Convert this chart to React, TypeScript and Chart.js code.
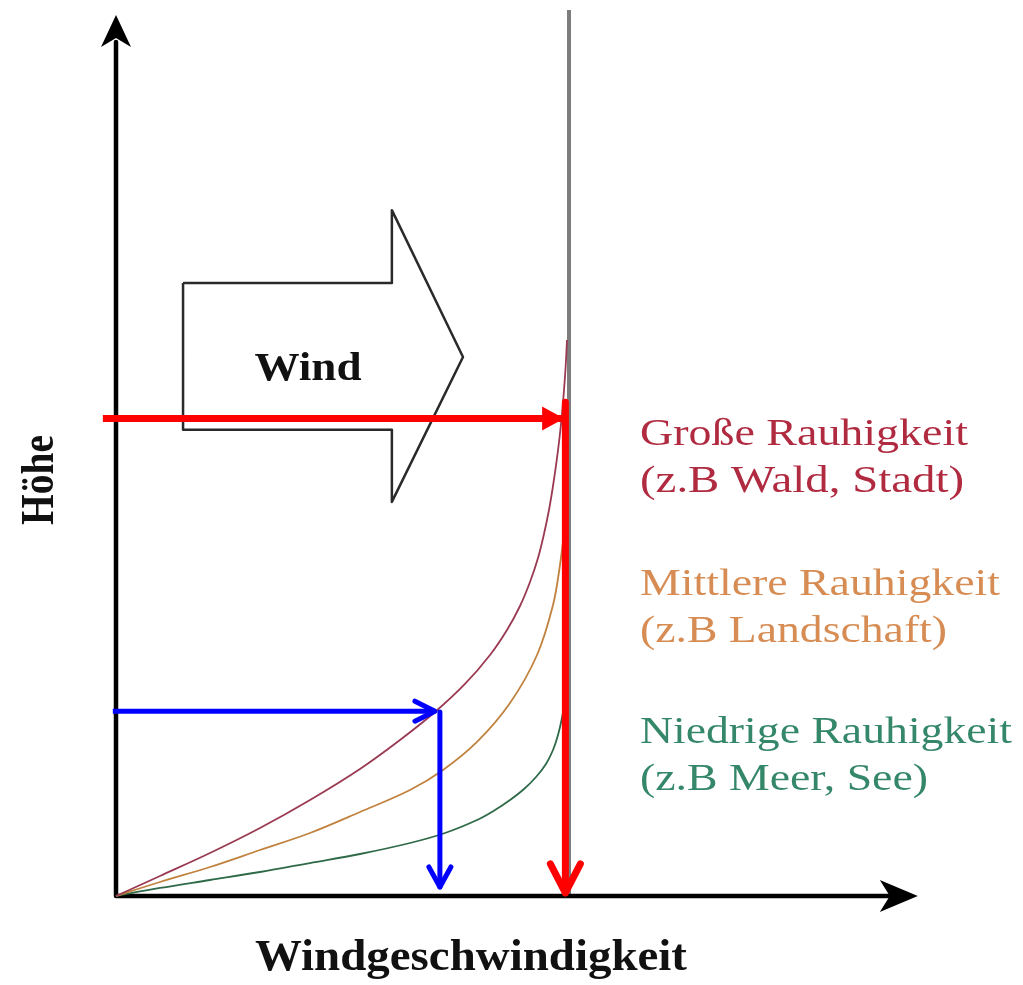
import React, { useEffect, useRef } from "react";
import { Chart, registerables } from "chart.js";

Chart.register(...registerables);

// Wind speed (x, 100 = free-stream speed) and height (y) in the same units
const RED_CURVE_X = [0, 9.71, 20.75, 31.79, 42.83, 53.86, 62.69, 70.42, 77.04, 82.56, 86.31, 89.18, 91.39, 93.16, 94.48, 95.58, 96.47, 97.24, 97.9, 98.45, 98.9, 99.27, 99.56];
const RED_CURVE_Y = [0, 4.42, 9.49, 15.01, 21.19, 28.04, 34.44, 40.62, 46.8, 53.2, 58.72, 64.02, 69.32, 74.61, 79.91, 85.21, 90.51, 95.81, 101.1, 106.4, 111.7, 117.0, 122.74];
const ORANGE_CURVE_X = [0, 9.71, 20.75, 31.79, 42.83, 53.86, 64.9, 72.19, 79.69, 86.98, 92.94, 96.47, 98.01, 99.12];
const ORANGE_CURVE_Y = [0, 3.09, 6.4, 10.15, 13.91, 18.54, 23.4, 27.81, 34.0, 42.6, 53.2, 64.24, 73.07, 81.9];
const GREEN_CURVE_X = [0, 9.71, 20.75, 31.79, 42.83, 53.86, 64.9, 72.63, 79.69, 83.66, 86.98, 90.07, 92.72, 94.92, 96.47, 97.57, 98.45, 99.12, 99.56];
const GREEN_CURVE_Y = [0, 1.77, 3.53, 5.3, 7.28, 9.27, 11.7, 13.91, 16.78, 18.98, 21.19, 23.62, 26.27, 29.14, 32.23, 35.54, 39.29, 43.27, 47.68];

const AXIS_Y_TOP = 194.5;
const AXIS_X_END = 177.0;
const V_MAX_LINE_X = 100;
const V_MAX_LINE_TOP = 195.6;

const RED_H_X = [-2.9, 98.7];
const RED_H_Y = 105.4;
const RED_V_X = 99.2;
const RED_V_Y = [109.0, 0.7];

const BLUE_H_X = [-0.7, 70.4];
const BLUE_H_Y = 40.8;
const BLUE_V_X = 71.5;
const BLUE_V_Y = [40.6, 2.0];

const WIND_ARROW_X = [14.8, 60.9, 60.9, 76.6, 60.9, 60.9, 14.8, 14.8];
const WIND_ARROW_Y = [135.3, 135.3, 151.4, 119.0, 87.0, 102.9, 102.9, 135.3];

const LEGEND_LINES = [
  "Große Rauhigkeit",
  "(z.B Wald, Stadt)",
  "Mittlere Rauhigkeit",
  "(z.B Landschaft)",
  "Niedrige Rauhigkeit",
  "(z.B Meer, See)",
];
const X_TITLE = "Windgeschwindigkeit";
const Y_TITLE = "Höhe";
const ARROW_LABEL = "Wind";

const C_RED_CURVE = "#9a3a52";
const C_ORANGE_CURVE = "#c0823e";
const C_GREEN_CURVE = "#2f6a48";
const C_RED_TEXT = "#b02a40";
const C_ORANGE_TEXT = "#d68c52";
const C_GREEN_TEXT = "#35876a";

const PX_PER_UNIT = 4.53;
const ORIGIN_PX = [116, 896];
const W = 1023;
const H = 985;

const zip = (xs: number[], ys: number[]) => xs.map((x, i) => ({ x, y: ys[i] }));

function drawHead(
  ctx: CanvasRenderingContext2D,
  tx: number,
  ty: number,
  ang: number,
  shape: number[][],
  color: string,
  filled: boolean,
  lw = 0
) {
  ctx.save();
  ctx.translate(tx, ty);
  ctx.rotate(ang);
  ctx.beginPath();
  shape.forEach(([a, b], i) => (i ? ctx.lineTo(a, b) : ctx.moveTo(a, b)));
  if (filled) {
    ctx.closePath();
    ctx.fillStyle = color;
    ctx.fill();
  } else {
    ctx.strokeStyle = color;
    ctx.lineWidth = lw;
    ctx.lineCap = "round";
    ctx.lineJoin = "round";
    ctx.stroke();
  }
  ctx.restore();
}

function drawText(
  ctx: CanvasRenderingContext2D,
  text: string,
  x: number,
  y: number,
  font: string,
  color: string,
  align: CanvasTextAlign,
  targetWidth: number
) {
  ctx.save();
  ctx.font = font;
  const w = ctx.measureText(text).width;
  const sx = targetWidth / w;
  ctx.translate(x, y);
  ctx.scale(sx, 1);
  ctx.fillStyle = color;
  ctx.textAlign = align;
  ctx.textBaseline = "alphabetic";
  ctx.fillText(text, 0, 0);
  ctx.restore();
}

const decorPlugin = {
  id: "decor",
  afterDatasetsDraw(chart: any) {
    const ctx: CanvasRenderingContext2D = chart.ctx;
    const sx = chart.scales.x;
    const sy = chart.scales.y;
    const P = (x: number, y: number) => [sx.getPixelForValue(x), sy.getPixelForValue(y)];

    // axis heads
    let [a, b] = P(0, AXIS_Y_TOP);
    drawHead(ctx, a, b, -Math.PI / 2, [[0, 0], [-32, -15], [-23, 0], [-32, 15]], "#000", true);
    [a, b] = P(AXIS_X_END, 0);
    drawHead(ctx, a, b, 0, [[0, 0], [-38, -16], [-28, 0], [-38, 16]], "#000", true);

    // red heads
    [a, b] = P(RED_H_X[1], RED_H_Y);
    drawHead(ctx, a, b, 0, [[1, 0], [-21, -12], [-21, 12]], "#ff0000", true);
    [a, b] = P(RED_V_X, RED_V_Y[1]);
    drawHead(ctx, a, b, Math.PI / 2, [[-29, -15], [0, 0], [-29, 15]], "#ff0000", false, 7);

    // blue heads
    [a, b] = P(BLUE_H_X[1], BLUE_H_Y);
    drawHead(ctx, a, b, 0, [[-20, -10], [0, 0], [-20, 10]], "#0000ff", false, 5);
    [a, b] = P(BLUE_V_X, BLUE_V_Y[1]);
    drawHead(ctx, a, b, Math.PI / 2, [[-20, -11], [0, 0], [-20, 11]], "#0000ff", false, 5);

    // texts
    const serif = '"Liberation Serif", "Times New Roman", serif';
    drawText(ctx, ARROW_LABEL, 308, 380, `bold 41px ${serif}`, "#111", "center", 107);
    drawText(ctx, X_TITLE, 471, 970, `bold 44px ${serif}`, "#111", "center", 432);

    const legend = [
      [LEGEND_LINES[0], 445, C_RED_TEXT, 328],
      [LEGEND_LINES[1], 492, C_RED_TEXT, 324],
      [LEGEND_LINES[2], 595, C_ORANGE_TEXT, 360],
      [LEGEND_LINES[3], 642, C_ORANGE_TEXT, 307],
      [LEGEND_LINES[4], 743, C_GREEN_TEXT, 372],
      [LEGEND_LINES[5], 790, C_GREEN_TEXT, 288],
    ] as [string, number, string, number][];
    legend.forEach(([t, y, c, tw]) => drawText(ctx, t, 640, y, `37px ${serif}`, c, "left", tw));

    // rotated y title
    ctx.save();
    ctx.font = `bold 40px ${serif}`;
    const w = ctx.measureText(Y_TITLE).width;
    ctx.translate(53, 480);
    ctx.rotate(-Math.PI / 2);
    ctx.scale(90 / w, 1.17);
    ctx.fillStyle = "#111";
    ctx.textAlign = "center";
    ctx.textBaseline = "alphabetic";
    ctx.fillText(Y_TITLE, 0, 0);
    ctx.restore();
  },
};

export default function App() {
  const ref = useRef<HTMLCanvasElement | null>(null);

  useEffect(() => {
    if (!ref.current) return;
    const line = (data: any[], color: string, width: number, order: number, curve = false) => ({
      data,
      borderColor: color,
      borderWidth: width,
      pointRadius: 0,
      showLine: true,
      fill: false,
      order,
      clip: false as any,
      tension: curve ? 0.35 : 0,
      cubicInterpolationMode: "default" as const,
      borderCapStyle: "butt" as const,
      borderJoinStyle: "round" as const,
    });

    const chart = new Chart(ref.current, {
      type: "scatter",
      data: {
        datasets: [
          line(zip(RED_H_X, [RED_H_Y, RED_H_Y]), "#ff0000", 7, 1),
          line(zip([RED_V_X, RED_V_X], RED_V_Y), "#ff0000", 7, 1),
          line(zip(BLUE_H_X, [BLUE_H_Y, BLUE_H_Y]), "#0000ff", 5, 2),
          line(zip([BLUE_V_X, BLUE_V_X], BLUE_V_Y), "#0000ff", 5, 2),
          line(zip(RED_CURVE_X, RED_CURVE_Y), C_RED_CURVE, 1.8, 3, true),
          line(zip(ORANGE_CURVE_X, ORANGE_CURVE_Y), C_ORANGE_CURVE, 1.8, 3, true),
          line(zip(GREEN_CURVE_X, GREEN_CURVE_Y), C_GREEN_CURVE, 1.8, 3, true),
          line(zip([0, 0, AXIS_X_END - 6], [AXIS_Y_TOP - 6, 0, 0]), "#000", 4.5, 4),
          line(zip([V_MAX_LINE_X, V_MAX_LINE_X], [0, V_MAX_LINE_TOP]), "#7d7d7d", 4, 5),
          line(zip(WIND_ARROW_X, WIND_ARROW_Y), "#2a2a2a", 2.5, 6),
        ],
      },
      options: {
        animation: false,
        responsive: false,
        devicePixelRatio: 1,
        layout: { padding: 0 },
        plugins: { legend: { display: false }, tooltip: { enabled: false } },
        events: [],
        scales: {
          x: {
            type: "linear",
            display: false,
            min: -ORIGIN_PX[0] / PX_PER_UNIT,
            max: (W - ORIGIN_PX[0]) / PX_PER_UNIT,
          },
          y: {
            type: "linear",
            display: false,
            min: -(H - ORIGIN_PX[1]) / PX_PER_UNIT,
            max: ORIGIN_PX[1] / PX_PER_UNIT,
          },
        },
      },
      plugins: [decorPlugin],
    });
    return () => chart.destroy();
  }, []);

  return (
    <div style={{ position: "absolute", left: 0, top: 0, width: W, height: H, background: "#fff" }}>
      <canvas ref={ref} width={W} height={H} style={{ width: W, height: H, display: "block" }} />
    </div>
  );
}
